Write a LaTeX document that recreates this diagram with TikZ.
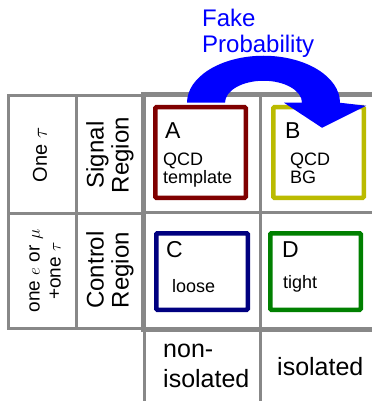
\documentclass[tikz,border=0pt]{standalone}
\usepackage{fontspec}
\setmainfont{Liberation Sans}
\usetikzlibrary{arrows.meta,positioning,calc}
\definecolor{gridgray}{RGB}{136,136,136}
\definecolor{boxred}{RGB}{128,0,0}
\definecolor{boxolive}{RGB}{187,187,0}
\definecolor{boxnavy}{RGB}{0,0,128}
\definecolor{boxgreen}{RGB}{0,128,0}
\definecolor{fakeblue}{RGB}{0,0,255}
\tikzset{
  gline/.style  = {draw=gridgray, line width=2.5pt},
  gthick/.style = {draw=gridgray, line width=5pt},
  regbox/.style = {draw, line width=4.5pt, rounded corners=1pt, inner sep=0pt,
                   minimum width=90.5pt, minimum height=90.5pt},
  letter/.style = {font=\fontsize{23}{23}\selectfont, anchor=base west, inner sep=0pt},
  note/.style   = {font=\fontsize{18}{17.5}\selectfont, anchor=base west, inner sep=0pt, align=left},
  side/.style   = {rotate=90, align=center, inner sep=0pt},
  collab/.style = {font=\fontsize{25}{30}\selectfont, align=left, inner sep=0pt, anchor=base west},
}
\begin{document}
\begin{tikzpicture}[x=1pt, y=-1pt]
  \useasboundingbox (0,0) rectangle (372,401);
  % left table
  \draw[gline] (8.7,95.3) rectangle (143,328.3);
  \draw[gline] (76.7,95.3) -- (76.7,328.3);
  \draw[gline] (8.7,213.3) -- (143,213.3);
  % grid of the four regions
  \draw[gline, line width=3pt] (260.5,94.5) -- (260.5,401);
  \draw[gline, line width=3pt] (143.5,212.8) -- (372,212.8);
  \draw[gline] (144.7,331) -- (144.7,401);
  \draw[gthick] (143.5,92) -- (143.5,331);
  \draw[gthick] (141,94.5) -- (372,94.5);
  \draw[gthick] (141,329) -- (372,329);
  % regions
  \node[regbox, draw=boxred] (A) at (200.5,152.5) {};
  \node[regbox, draw=boxolive] (B) at (318.5,152.5) {};
  \node[regbox, draw=boxnavy, minimum width=91.5pt, minimum height=76.5pt] (C) at (202,271.5) {};
  \node[regbox, draw=boxgreen, minimum height=76.5pt] (D) at (315.5,271.5) {};
  \node[letter] at (165,138) {A};
  \node[note] at (163,183) {QCD\\template};
  \node[letter] at (285,138) {B};
  \node[note] at (290,183) {QCD\\BG};
  \node[letter] at (166,257) {C};
  \node[note] at (172,292) {loose};
  \node[letter] at (282,257) {D};
  \node[note] at (283,288) {tight};
  % fake rate arrow A -> B
  \fill[fakeblue] ([xshift=-13.5pt,yshift=2.25pt]A.north)
    arc[start angle=180, end angle=0, x radius=76.5pt, y radius=47pt]
    -- ++(26,3) -- ++(-44,22) -- ++(-38,-25) -- ++(18,0)
    arc[start angle=0, end angle=180, x radius=38.5pt, y radius=22pt] -- cycle;
  \node[font=\fontsize{24}{26}\selectfont, text=fakeblue, align=left,
        inner sep=0pt, anchor=base west] (fake) at (202,53) {Fake\\Probability};
  % row labels
  \node[side, font=\fontsize{20}{20}\selectfont] (one) at (40,155) {One $\tau$};
  \node[side, font=\fontsize{19}{21}\selectfont] (lep) at (45,271) {one $e$ or $\mu$\\+one $\tau$};
  \node[side, font=\fontsize{24}{25}\selectfont] (sr) at (110,155) {Signal\\Region};
  \node[side, font=\fontsize{24}{25}\selectfont] (cr) at (110,270) {Control\\Region};
  % column labels
  \node[collab] (noniso) at (163,387) {non-\\isolated};
  \node[collab] (iso) at (277,375) {isolated};
\end{tikzpicture}
\end{document}
